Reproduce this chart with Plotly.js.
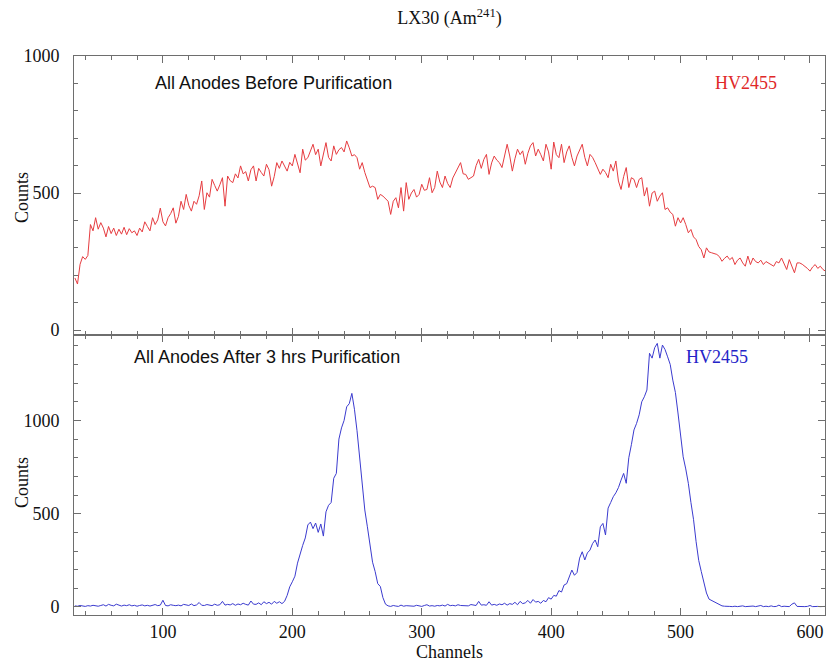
<!DOCTYPE html>
<html>
<head>
<meta charset="utf-8">
<script src="https://cdn.plot.ly/plotly-3.0.1.min.js"></script>
<style>
  html, body { margin: 0; padding: 0; background: #fff; }
  #chart { width: 827px; height: 663px; }
</style>
</head>
<body>
<div id="chart"></div>
<script>
// ---- data ----
const chartTitle = "LX30 (Am<sup>241</sup>)";
const xTitle = "Channels";
const yTitle = "Counts";
const topLabel = "All Anodes Before Purification";
const bottomLabel = "All Anodes After 3 hrs Purification";
const hvLabel = "HV2455";

// channel sampling of both spectra: first channel and channel step
const channelStart = 32;
const channelStep = 2;

// counts before purification (channels 32, 34, ..., 612)
const countsBefore = [
  190,168,240,268,258,272,385,362,410,368,
  392,372,340,378,352,372,345,368,350,375,
  348,370,355,362,345,372,358,395,378,362,
  410,385,402,445,395,380,410,425,446,390,
  415,470,440,495,455,434,470,459,490,544,
  440,501,485,550,528,507,530,556,452,562,
  545,538,570,555,599,570,578,544,585,599,
  544,590,575,562,605,585,525,560,611,590,
  617,600,580,612,599,641,610,574,660,620,
  629,655,678,640,660,599,648,684,630,617,
  672,641,658,666,650,690,665,635,640,629,
  587,611,575,550,520,525,520,477,495,489,
  480,470,422,470,483,446,520,434,538,477,
  500,513,485,495,532,510,513,556,501,520,
  580,540,520,562,535,520,555,574,590,611,
  570,568,550,555,562,600,623,590,623,641,
  568,610,635,620,611,593,640,678,635,580,
  625,660,640,654,605,645,672,684,635,660,
  640,617,678,650,587,686,640,629,678,611,
  650,672,630,599,635,660,678,630,599,641,
  630,611,590,568,587,575,556,605,580,617,
  544,513,560,593,520,556,550,520,550,556,
  489,520,452,500,507,470,489,501,440,446,
  430,422,379,410,391,410,385,355,367,340,
  330,305,293,263,300,285,282,280,276,268,
  251,262,270,257,265,239,255,263,245,233,
  270,239,263,250,245,255,239,250,245,238,
  233,250,245,263,240,221,257,230,209,245,
  245,240,233,225,215,230,239,225,233,221,
  215
];

// counts after 3 hrs purification (channels 32, 34, ..., 612)
const countsAfter = [
  6,4,8,5,3,7,5,9,6,4,
  8,12,5,14,9,6,15,8,5,10,
  7,12,6,9,4,8,11,6,9,5,
  8,13,7,10,36,8,6,12,9,7,
  10,6,14,9,8,16,7,11,24,9,
  8,13,10,7,15,9,12,30,10,14,
  11,18,9,16,12,20,14,10,32,15,
  14,22,12,28,18,25,15,30,20,28,
  18,30,62,108,135,165,235,285,330,370,
  440,455,420,450,400,445,380,510,545,560,
  690,716,900,960,1000,1073,1090,1145,1060,945,
  810,670,520,430,320,240,190,125,110,50,
  15,6,3,8,5,3,10,4,7,5,
  6,4,9,5,3,8,12,5,7,4,
  8,6,10,5,14,7,9,6,12,8,
  7,10,6,13,9,8,30,10,12,9,
  28,10,14,9,16,12,20,10,18,14,
  25,12,30,18,22,35,20,40,26,30,
  20,35,28,50,42,62,58,88,80,118,
  125,160,198,170,185,262,296,252,290,305,
  340,359,323,430,448,386,530,560,591,612,
  640,680,716,663,800,870,949,984,1030,1100,
  1127,1163,1360,1334,1390,1413,1334,1404,1380,1341,
  1300,1216,1150,1040,930,805,740,663,560,470,
  350,250,190,130,75,42,35,28,18,11,
  6,4,2,3,2,4,2,3,6,2,
  3,2,5,2,3,8,2,4,2,6,
  2,3,10,2,4,3,2,15,22,3,
  2,5,2,3,8,2,4,3,2,4,
  3
];

// axis ranges and ticks
const xRange = [31.3, 611.6];
const yRangeTop = [-18, 1000];
const yRangeBottom = [-43, 1458];

// ---- styling ----
const serif = "Liberation Serif, Times New Roman, serif";
const sans = "Liberation Sans, Arial, sans-serif";
const axisColor = "#6e6e6e";
const redLine = "#e63c40";
const blueLine = "#3b3bcf";

const traces = [
  {
    type: "scatter", mode: "lines",
    x0: channelStart, dx: channelStep, y: countsBefore,
    xaxis: "x2", yaxis: "y",
    line: { color: redLine, width: 1 },
    hoverinfo: "x+y"
  },
  {
    type: "scatter", mode: "lines",
    x0: channelStart, dx: channelStep, y: countsAfter,
    xaxis: "x", yaxis: "y2",
    line: { color: blueLine, width: 1 },
    hoverinfo: "x+y"
  }
];

const commonX = {
  range: xRange, showgrid: false, zeroline: false,
  showline: true, linecolor: axisColor, linewidth: 1, mirror: "ticks",
  ticks: "inside", ticklen: 7, tickcolor: axisColor, tickwidth: 1,
  tick0: 0, dtick: 100,
  minor: { dtick: 20, ticks: "inside", ticklen: 4, tickcolor: axisColor, tickwidth: 1, showgrid: false },
  tickfont: { family: serif, size: 18, color: "#111" }
};
const commonY = {
  showgrid: false, zeroline: false,
  showline: true, linecolor: axisColor, linewidth: 1, mirror: "ticks",
  ticks: "inside", ticklen: 7, tickcolor: axisColor, tickwidth: 1,
  tick0: 0, dtick: 500,
  minor: { dtick: 100, ticks: "inside", ticklen: 4, tickcolor: axisColor, tickwidth: 1, showgrid: false },
  tickfont: { family: serif, size: 18, color: "#111" },
  ticklabelstandoff: 10
};

const split = 280 / 559;

const layout = {
  width: 827, height: 663,
  margin: { l: 74, r: 2, t: 56, b: 48 },
  paper_bgcolor: "#fff", plot_bgcolor: "#fff",
  showlegend: false,
  title: {
    text: chartTitle, x: 0.5, xanchor: "center", xref: "paper",
    y: 1 - 18 / 663, yanchor: "middle", yref: "container",
    font: { family: serif, size: 18, color: "#111" }
  },
  xaxis: Object.assign({}, commonX, {
    anchor: "y2", domain: [0, 1],
    title: { text: xTitle, font: { family: serif, size: 18, color: "#111" }, standoff: 2 }
  }),
  xaxis2: Object.assign({}, commonX, {
    anchor: "y", domain: [0, 1], matches: "x", showticklabels: false
  }),
  yaxis: Object.assign({}, commonY, { domain: [split, 1], range: yRangeTop }),
  yaxis2: Object.assign({}, commonY, { domain: [0, split], range: yRangeBottom }),
  annotations: [
    { text: topLabel, xref: "paper", yref: "paper", x: (153 - 74) / 751, y: (615 - 83) / 559,
      xanchor: "left", yanchor: "middle", showarrow: false,
      font: { family: sans, size: 18, color: "#111" } },
    { text: hvLabel, xref: "paper", yref: "paper", x: (713 - 74) / 751, y: (615 - 83) / 559,
      xanchor: "left", yanchor: "middle", showarrow: false,
      font: { family: serif, size: 18, color: "#e02828" } },
    { text: bottomLabel, xref: "paper", yref: "paper", x: (132 - 74) / 751, y: (615 - 357) / 559,
      xanchor: "left", yanchor: "middle", showarrow: false,
      font: { family: sans, size: 18, color: "#111" } },
    { text: hvLabel, xref: "paper", yref: "paper", x: (684 - 74) / 751, y: (615 - 357) / 559,
      xanchor: "left", yanchor: "middle", showarrow: false,
      font: { family: serif, size: 18, color: "#2424c8" } },
    { text: yTitle, xref: "paper", yref: "paper", x: (22 - 74) / 751, y: (615 - 198) / 559,
      xanchor: "center", yanchor: "middle", textangle: -90, showarrow: false,
      font: { family: serif, size: 18, color: "#111" } },
    { text: yTitle, xref: "paper", yref: "paper", x: (22 - 74) / 751, y: (615 - 483) / 559,
      xanchor: "center", yanchor: "middle", textangle: -90, showarrow: false,
      font: { family: serif, size: 18, color: "#111" } }
  ]
};

Plotly.newPlot("chart", traces, layout, { displayModeBar: false, staticPlot: true });
</script>
</body>
</html>
